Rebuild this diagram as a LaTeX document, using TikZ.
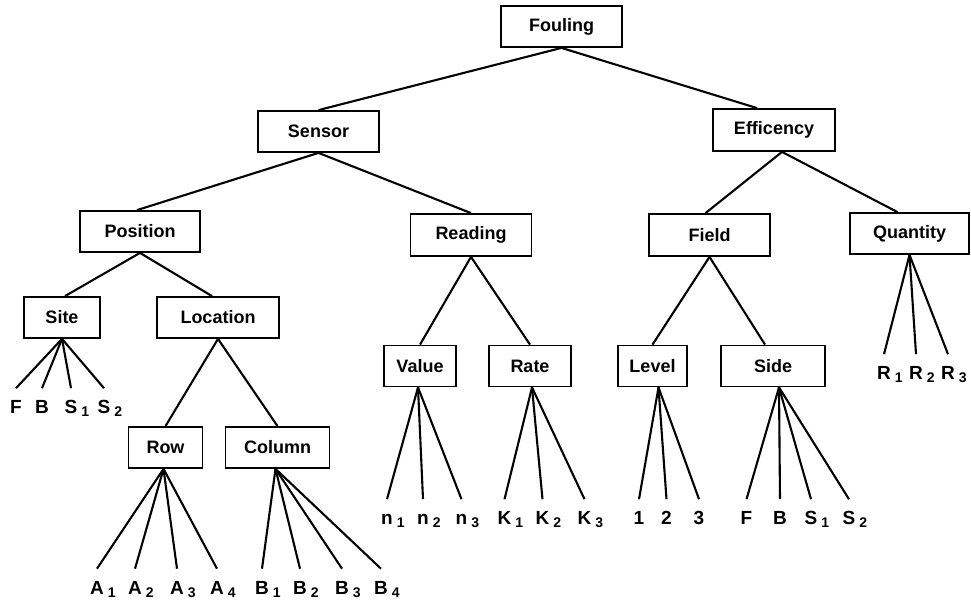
\documentclass[tikz,border=0pt]{standalone}
\usepackage{fontspec}
\setmainfont{Liberation Sans}
\begin{document}
\begin{tikzpicture}[x=1pt,y=-1pt,
  box/.style={draw, line width=1.8pt, inner sep=0pt, minimum height=41pt,
    font=\fontsize{18}{18}\selectfont\bfseries},
  leaf/.style={inner sep=0pt, outer xsep=0pt, outer ysep=12pt, text height=13.6pt, text depth=0pt,
    font=\fontsize{19}{19}\selectfont\bfseries},
  subl/.style={inner sep=0pt, outer sep=0pt, xshift=4pt, yshift=-4.8pt,
    font=\fontsize{14}{14}\selectfont\bfseries},
  conn/.style={line width=2.1pt}]
\useasboundingbox (0,0) rectangle (971,602);
% boxes
\node[box, minimum width=121pt] (fouling) at (561.5,26.5) {Fouling};
\node[box, minimum width=121pt] (sensor) at (318.5,131.5) {Sensor};
\node[box, minimum width=122pt, minimum height=42pt] (effic) at (774,130) {Efficency};
\node[box, minimum width=120pt] (position) at (140,231.5) {Position};
\node[box, minimum width=121pt, minimum height=42pt] (reading) at (471,235) {Reading};
\node[box, minimum width=121pt, minimum height=42pt] (field) at (709.5,235) {Field};
\node[box, minimum width=119pt] (quantity) at (909.5,233.5) {Quantity};
\node[box, minimum width=76pt] (site) at (62,317.5) {Site};
\node[box, minimum width=122pt] (location) at (218,317.5) {Location};
\node[box, minimum width=74pt] (row) at (165.5,447.5) {Row};
\node[box, minimum width=104pt] (column) at (277.5,447.5) {Column};
\node[box, minimum width=72pt] (value) at (420,366) {Value};
\node[box, minimum width=82pt] (rate) at (530,366) {Rate};
\node[box, minimum width=69pt] (level) at (652.5,366) {Level};
\node[box, minimum width=104pt] (side) at (773,366) {Side};
% tree connectors
\draw[conn] (fouling.south) -- (sensor.north);
\draw[conn] (fouling.south) -- ([xshift=-17pt]effic.north);
\draw[conn] (sensor.south) -- ([xshift=-3pt]position.north);
\draw[conn] (sensor.south) -- (reading.north);
\draw[conn] ([xshift=8pt]effic.south) -- ([xshift=-4pt]field.north);
\draw[conn] ([xshift=8pt]effic.south) -- ([xshift=-12pt]quantity.north);
\draw[conn] (position.south) -- ([xshift=3pt]site.north);
\draw[conn] (position.south) -- ([xshift=-6pt]location.north);
\draw[conn] (location.south) -- (row.north);
\draw[conn] (location.south) -- (column.north);
\draw[conn] (reading.south) -- (value.north);
\draw[conn] (reading.south) -- (rate.north);
\draw[conn] (field.south) -- (level.north);
\draw[conn] (field.south) -- ([xshift=-8pt]side.north);
% leaves: Site
\node[leaf] (sf) at (16,407) {F};
\node[leaf] (sb) at (42,407) {B};
\node[leaf, label={[subl]east:1}] (ss1) at (71,407) {S};
\node[leaf, label={[subl]east:2}] (ss2) at (104,407) {S};
\foreach \n in {sf,sb,ss1,ss2} \draw[conn] (site.south) -- (\n.north);
% Row
\node[leaf, label={[subl]east:1}] (ra1) at (97,587.5) {A};
\node[leaf, label={[subl]east:2}] (ra2) at (135,587.5) {A};
\node[leaf, label={[subl]east:3}] (ra3) at (177,587.5) {A};
\node[leaf, label={[subl]east:4}] (ra4) at (217,587.5) {A};
\foreach \n in {ra1,ra2,ra3,ra4} \draw[conn] ([xshift=-2pt]row.south) -- (\n.north);
% Column
\node[leaf, label={[subl]east:1}] (cb1) at (262,587.5) {B};
\node[leaf, label={[subl]east:2}] (cb2) at (300,587.5) {B};
\node[leaf, label={[subl]east:3}] (cb3) at (342,587.5) {B};
\node[leaf, label={[subl]east:4}] (cb4) at (381,587.5) {B};
\foreach \n in {cb1,cb2,cb3,cb4} \draw[conn] ([xshift=-2pt]column.south) -- (\n.north);
% Value
\node[leaf, label={[subl]east:1}] (vn1) at (387,518) {n};
\node[leaf, label={[subl]east:2}] (vn2) at (423,518) {n};
\node[leaf, label={[subl]east:3}] (vn3) at (461.5,518) {n};
\foreach \n in {vn1,vn2,vn3} \draw[conn] ([xshift=-2pt]value.south) -- (\n.north);
% Rate
\node[leaf, label={[subl]east:1}] (rk1) at (504.5,518) {K};
\node[leaf, label={[subl]east:2}] (rk2) at (542.5,518) {K};
\node[leaf, label={[subl]east:3}] (rk3) at (584.5,518) {K};
\foreach \n in {rk1,rk2,rk3} \draw[conn] ([xshift=2pt]rate.south) -- (\n.north);
% Level
\node[leaf] (l1) at (639,518) {1};
\node[leaf] (l2) at (666.5,518) {2};
\node[leaf] (l3) at (699,518) {3};
\foreach \n in {l1,l2,l3} \draw[conn] ([xshift=6pt]level.south) -- (\n.north);
% Side
\node[leaf] (df) at (746.5,518) {F};
\node[leaf] (db) at (780,518) {B};
\node[leaf, label={[subl]east:1}] (ds1) at (811,518) {S};
\node[leaf, label={[subl]east:2}] (ds2) at (849,518) {S};
\foreach \n in {df,db,ds1,ds2} \draw[conn] ([xshift=6pt]side.south) -- (\n.north);
% Quantity
\node[leaf, label={[subl]east:1}] (qr1) at (884,373) {R};
\node[leaf, label={[subl]east:2}] (qr2) at (916,373) {R};
\node[leaf, label={[subl]east:3}] (qr3) at (948,373) {R};
\foreach \n in {qr1,qr2,qr3} \draw[conn] (quantity.south) -- (\n.north);
\end{tikzpicture}
\end{document}
